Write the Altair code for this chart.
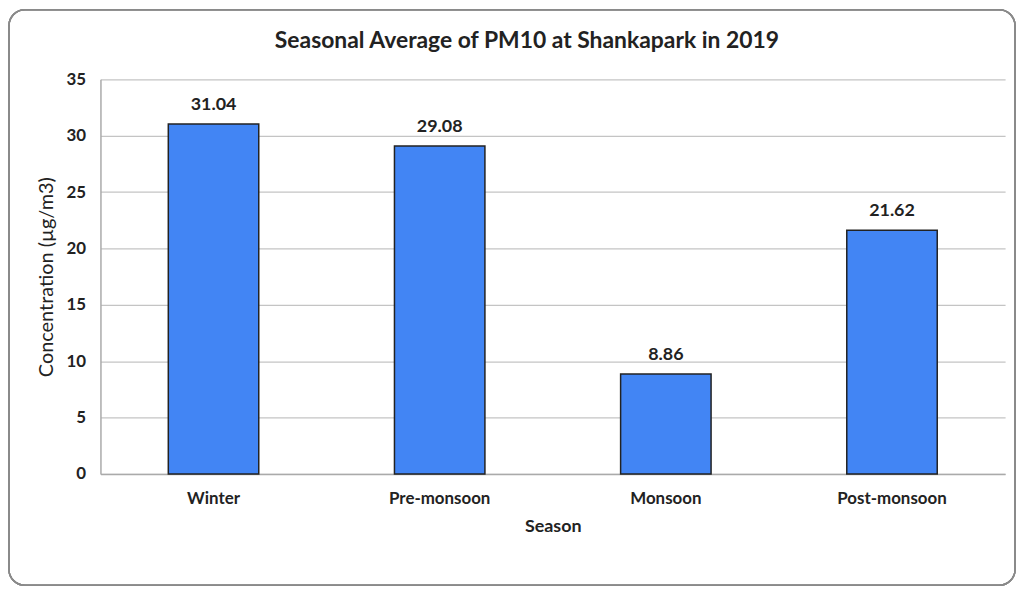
import altair as alt
import pandas as pd

seasons = ["Winter", "Pre-monsoon", "Monsoon", "Post-monsoon"]
values = [31.04, 29.08, 8.86, 21.62]
labels = ["31.04", "29.08", "8.86", "21.62"]
y_ticks = [0, 5, 10, 15, 20, 25, 30, 35]
chart_title = ["Seasonal Average of PM10 at Shankapark in 2019"]

df = pd.DataFrame({"Season": seasons, "Value": values, "Label": labels})
title_df = pd.DataFrame({"t": chart_title})

FONT = "Lato"
TXT = "#222222"

x_enc = alt.X(
    "Season:N",
    sort=seasons,
    scale=alt.Scale(paddingInner=0.6, paddingOuter=0.3),
    axis=alt.Axis(
        title="Season",
        labelAngle=0,
        labelFontWeight="bold",
        labelFontSize=17,
        labelColor=TXT,
        labelPadding=17,
        titleFontWeight="bold",
        titleFontSize=18,
        titleColor=TXT,
        titlePadding=11,
        ticks=False,
        domainColor="#aaaaaa",
        domainWidth=1.5,
    ),
)
y_scale = alt.Scale(domain=[0, 35], nice=False)

bars = alt.Chart(df).mark_bar(
    color="#4285F4", stroke="#222222", strokeWidth=1.5
).encode(
    x=x_enc,
    y=alt.Y(
        "Value:Q",
        scale=y_scale,
        axis=alt.Axis(
            title="Concentration (µg/m3)",
            values=y_ticks,
            labelFontWeight="bold",
            labelFontSize=17,
            labelColor=TXT,
            labelPadding=15,
            titleFontWeight="normal",
            titleFontSize=20,
            titleColor=TXT,
            titlePadding=10,
            ticks=False,
            domainColor="#aaaaaa",
            domainWidth=1.5,
            gridColor="#c4c4c4",
            gridWidth=1.3,
        ),
    ),
)

text = alt.Chart(df).mark_text(
    baseline="alphabetic", dy=-14, fontWeight="bold", fontSize=18, color=TXT, font=FONT
).encode(
    x=alt.X("Season:N", sort=seasons),
    y=alt.Y("Value:Q", scale=y_scale),
    text="Label:N",
)

title_mark = alt.Chart(title_df).mark_text(
    baseline="alphabetic", align="center", fontSize=23, fontWeight="bold", color=TXT, font=FONT
).encode(
    x=alt.value(429), y=alt.value(-31), text="t:N"
)

frame = alt.Chart(df).mark_rect(
    fill=None, stroke="#8a8a8a", strokeWidth=1.5, cornerRadius=16
).encode(
    x=alt.value(-92), x2=alt.value(920), y=alt.value(-70), y2=alt.value(509)
)

chart = alt.layer(frame, bars, text, title_mark).properties(
    width=910,
    height=397,
    padding={"left": 93, "top": 70, "right": 14, "bottom": 114},
    autosize=alt.AutoSizeParams(type="none"),
    background="white",
).configure(font=FONT).configure_view(stroke=None)

chart.save("out.html", embed_options={"renderer": "svg", "actions": False})
